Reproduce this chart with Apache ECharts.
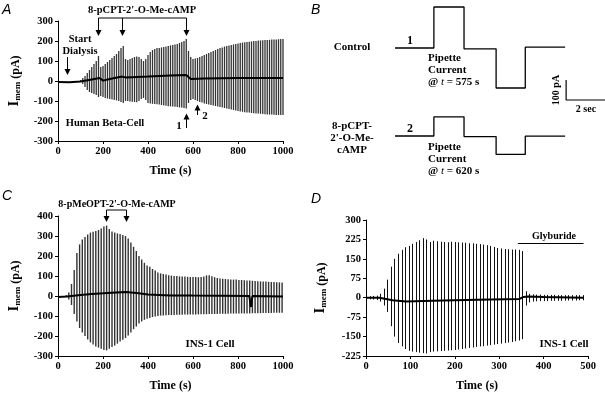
<!DOCTYPE html>
<html><head><meta charset="utf-8">
<script src="https://cdn.jsdelivr.net/npm/echarts@6/dist/echarts.min.js"></script>
<style>html,body{margin:0;padding:0;background:#fff}#c{width:605px;height:393px}</style>
</head><body><div id="c"></div>
<script>
// ---------- DATA ----------
// Panel A: spike times (s), upper and lower spike extremes (pA)
const aTime = [100,110,120,130,140,150,160,170,180,190,200,210,220,230,240,250,260,270,280,290,300,310,320,330,340,350,360,370,380,390,400,410,420,430,440,450,460,470,480,490,500,510,520,530,540,550,560,570,580,590,600,610,620,630,640,650,660,670,680,690,700,710,720,730,740,750,760,770,780,790,800,810,820,830,840,850,860,870,880,890,900,910,920,930,940,950,960,970,980,990,1000];
const aHigh = [5,15,25,40,55,70,85,100,125,70,75,85,95,105,115,125,135,150,165,175,110,105,110,115,120,122,120,110,100,110,130,145,155,160,165,165,168,170,172,175,178,180,182,185,190,195,200,210,150,120,110,112,115,120,125,130,135,140,145,150,155,160,165,168,172,175,178,180,183,185,188,190,192,194,195,196,198,200,200,202,203,204,205,205,206,207,208,208,209,210,210];
const aLow = [-5,-15,-30,-45,-55,-60,-65,-70,-80,-75,-80,-85,-88,-90,-92,-95,-97,-100,-105,-110,-100,-100,-102,-104,-105,-106,-100,-90,-85,-95,-110,-112,-114,-115,-116,-118,-120,-122,-124,-126,-127,-128,-129,-130,-132,-133,-135,-138,-110,-95,-90,-95,-100,-105,-108,-112,-115,-118,-120,-123,-125,-128,-130,-133,-135,-138,-140,-142,-145,-147,-150,-152,-154,-156,-157,-158,-160,-161,-162,-163,-164,-165,-166,-167,-168,-168,-169,-170,-170,-170,-170];
const aMeanT = [0,50,100,150,185,200,230,285,300,400,500,570,590,650,800,1000];
const aMeanV = [-5,-6,-3,8,15,2,10,22,18,22,28,30,10,12,15,15];

// Panel B: pipette current steps (s, pA)
const bTime = [0,2.0,2.0,3.55,3.55,5.2,5.2,6.7,6.7,8.75];
const b1Val = [0,0,205,205,-4,-4,-200,-200,4,4];
const b2Val = [0,0,96,96,-3,-3,-92,-92,-1,-1];
const barT = [8.8,8.8,10.8];
const barV = [-160,-260,-260];

// Panel C
const cTime = [36,48,60,72,84,96,108,120,132,144,156,168,180,192,204,216,228,240,252,264,276,288,300,312,324,336,348,360,372,384,396,408,420,432,444,456,468,480,492,504,516,528,540,552,564,576,588,600,612,624,636,648,660,672,684,696,708,720,732,744,756,768,780,792,804,816,828,840,852,864,876,888,900,912,924,936,948,960,972,984,996];
const cHigh = [5,18,60,130,215,258,283,295,307,317,321,325,330,337,348,352,335,323,318,313,310,305,300,287,268,246,225,200,182,166,153,146,135,127,118,113,110,107,104,102,100,100,98,98,97,96,95,95,95,94,95,98,103,104,99,94,90,88,86,85,84,83,82,82,80,80,79,78,77,76,75,74,73,73,72,71,70,70,69,68,67];
const cLow = [-5,-18,-45,-90,-128,-160,-183,-200,-218,-232,-242,-252,-258,-264,-270,-272,-264,-255,-247,-238,-228,-219,-210,-198,-182,-166,-152,-138,-127,-119,-114,-110,-105,-102,-100,-98,-97,-96,-95,-95,-95,-94,-94,-94,-93,-93,-93,-92,-92,-92,-91,-91,-91,-90,-90,-90,-90,-89,-89,-89,-89,-88,-88,-88,-88,-87,-87,-87,-87,-86,-86,-86,-86,-85,-85,-85,-85,-84,-84,-84,-84];
const cMeanT = [0,40,100,150,220,300,350,400,500,600,850,858,864,1000];
const cMeanV = [-5,-3,5,10,15,20,15,8,3,2,0,-55,0,-2];

// Panel D
const dTime = [8,16,24,32,40,48,56,64,72,80,88,96,104,112,120,128,136,144,152,160,168,176,184,192,200,208,216,224,232,240,248,256,264,272,280,288,296,304,312,320,328,336,344,352,360,368,376,384,392,400,408,416,424,432,440,448,456,464,472,480,488];
const dHigh = [6,7,8,15,35,70,120,150,170,185,195,200,208,215,222,230,225,215,220,218,216,215,214,216,215,214,213,212,210,210,208,207,205,203,200,196,192,190,188,187,186,186,185,180,25,15,13,12,12,11,11,11,11,10,10,10,10,10,10,10,10];
const dLow = [-6,-7,-9,-15,-30,-55,-110,-150,-175,-188,-198,-205,-208,-210,-212,-214,-215,-210,-208,-207,-206,-205,-204,-203,-202,-200,-198,-196,-194,-192,-190,-188,-187,-185,-183,-181,-179,-177,-175,-173,-171,-168,-165,-160,-30,-18,-15,-14,-13,-13,-13,-12,-12,-12,-12,-11,-11,-11,-11,-10,-10];
const dMeanT = [0,30,60,90,150,250,345,355,365,400,490];
const dMeanV = [0,0,-10,-15,-12,-8,-5,3,5,3,0];

// ---------- CHART ----------
const SERIF = '"Liberation Serif","Times New Roman",serif';
const SANS = '"Liberation Sans",Arial,sans-serif';
const chart = echarts.init(document.getElementById('c'), null, {renderer:'canvas'});

const yName = '{i|I}{s|mem}{p| (pA)}';
const yNameStyle = {color:'#000', fontFamily:SERIF, fontWeight:'bold',
  rich:{ i:{fontSize:15, fontFamily:SERIF, fontWeight:'bold', color:'#000', verticalAlign:'bottom', lineHeight:16},
         s:{fontSize:9, fontFamily:SERIF, fontWeight:'bold', color:'#000', verticalAlign:'bottom', lineHeight:11},
         p:{fontSize:12, fontFamily:SERIF, fontWeight:'bold', color:'#000', verticalAlign:'bottom', lineHeight:15}}};

const plain = v => String(v);
function xAx(gi, min, max, interval, show){
  if(!show) return {type:'value', gridIndex:gi, min, max, show:false};
  return {type:'value', gridIndex:gi, min, max, interval,
    axisLine:{show:true, onZero:false, lineStyle:{color:'#000', width:1}},
    axisTick:{show:true, length:3, lineStyle:{color:'#000'}},
    splitLine:{show:false},
    axisLabel:{color:'#000', fontFamily:SERIF, fontWeight:'bold', fontSize:10.5, margin:5, formatter:plain},
    name:'Time (s)', nameLocation:'middle', nameGap:24,
    nameTextStyle:{color:'#000', fontFamily:SERIF, fontWeight:'bold', fontSize:12}};
}
function yAx(gi, min, max, interval, show, gap){
  if(!show) return {type:'value', gridIndex:gi, min, max, show:false};
  return {type:'value', gridIndex:gi, min, max, interval,
    axisLine:{show:true, onZero:false, lineStyle:{color:'#000', width:1}},
    axisTick:{show:true, length:3, lineStyle:{color:'#000'}},
    splitLine:{show:false},
    axisLabel:{color:'#000', fontFamily:SERIF, fontWeight:'bold', fontSize:10.5, margin:5, formatter:plain},
    name:yName, nameLocation:'middle', nameGap:gap, nameTextStyle:yNameStyle};
}
function spikes(gi, t, hi, lo, color, w, snap){
  return {type:'custom', xAxisIndex:gi, yAxisIndex:gi, silent:true, animation:false,
    data:t.map((v,i)=>[v, hi[i], lo[i]]), encode:{x:0, y:[1,2]},
    renderItem:(params, api)=>{
      const p1 = api.coord([api.value(0), api.value(1)]);
      const p2 = api.coord([api.value(0), api.value(2)]);
      const x = snap ? Math.round(p1[0]) + 0.5 : p1[0];
      return {type:'line', shape:{x1:x, y1:p1[1], x2:x, y2:p2[1]},
        style:{stroke:color, lineWidth:w}};
    }};
}
function line(gi, t, v, w){
  return {type:'line', xAxisIndex:gi, yAxisIndex:gi, data:t.map((x,i)=>[x, v[i]]),
    showSymbol:false, symbol:'none', silent:true, animation:false, clip:false,
    lineStyle:{color:'#000', width:w}};
}

const option = {
  animation:false,
  backgroundColor:'#fff',
  grid:[
    {left:58, top:21, width:225, height:120},
    {left:58, top:216, width:225, height:143},
    {left:366, top:220, width:222, height:139},
    {left:395, top:0, width:210.6, height:100},
    {left:395, top:112, width:210.6, height:48}
  ],
  xAxis:[ xAx(0,0,1000,200,true), xAx(1,0,1000,200,true), xAx(2,0,500,100,true), xAx(3,0,10.8,1,false), xAx(4,0,10.8,1,false)],
  yAxis:[ yAx(0,-300,300,100,true,36), yAx(1,-300,400,100,true,36), yAx(2,-225,300,75,true,38), yAx(3,-260,240,100,false), yAx(4,-120,120,100,false)],
  series:[
    spikes(0, aTime, aHigh, aLow, '#333', 1.3, false),
    line(0, aMeanT, aMeanV, 2),
    spikes(1, cTime, cHigh, cLow, '#333', 1.4, false),
    line(1, cMeanT, cMeanV, 2),
    spikes(2, dTime, dHigh, dLow, '#111', 1, true),
    line(2, dMeanT, dMeanV, 2),
    line(3, bTime, b1Val, 1.3),
    line(3, barT, barV, 1.2),
    line(4, bTime, b2Val, 1.3)
  ]
};
chart.setOption(option);

// ---------- ANNOTATIONS ----------
const px = (gi, t, v) => chart.convertToPixel({gridIndex:gi}, [t, v]);
const g = [];
function txt(x, y, text, size, align, opts){
  opts = opts || {};
  g.push({type:'text', x, y, rotation:opts.rot||0, silent:true,
    style:{text, fill:'#000', font:(opts.font||('bold '+size+'px '+SERIF)),
      align:align||'center', verticalAlign:'middle', textAlign:align||'center', textVerticalAlign:'middle', rich:opts.rich}});
}
function seg(x1,y1,x2,y2,w){ g.push({type:'line', silent:true, shape:{x1,y1,x2,y2}, style:{stroke:'#000', lineWidth:w||1}}); }
function head(x, y, dir){ // dir 1 = pointing down, -1 = up
  g.push({type:'polygon', silent:true, shape:{points:[[x-3, y-6*dir],[x+3, y-6*dir],[x, y]]}, style:{fill:'#000'}});
}
function arrow(gi, t, vFrom, vTip){
  const a = px(gi, t, vFrom), b = px(gi, t, vTip);
  const dir = b[1] > a[1] ? 1 : -1;
  const x = Math.round(a[0]) + 0.5;
  seg(x, a[1], x, b[1] - 4*dir, 1);
  head(x, b[1], dir);
  return [x, a[1]];
}

// Panel letters
const letter = 'italic 14px ' + SANS;
txt(2, 10, 'A', 14, 'left', {font:letter});
txt(311, 10, 'B', 14, 'left', {font:letter});
txt(2, 196, 'C', 14, 'left', {font:letter});
txt(311, 199, 'D', 14, 'left', {font:letter});

// Panel A
txt(142, 10, "8-pCPT-2'-O-Me-cAMP", 10.5);
const br1 = arrow(0, 178, 315, 225), br2 = arrow(0, 285, 315, 225), br3 = arrow(0, 570, 315, 225);
seg(br1[0], br1[1], br3[0], br3[1], 1);
txt(80, 39, 'Start', 10.5);
txt(80, 51, 'Dialysis', 10.5);
arrow(0, 40, 120, 30);
txt(105, 123, 'Human Beta-Cell', 10.5);
arrow(0, 567, -235, -162);
arrow(0, 619, -170, -117);
txt(179, 126, '1', 11);
txt(205, 116, '2', 11);

// Panel B
txt(352, 47, 'Control', 11);
txt(410, 41, '1', 12);
txt(352, 126, '8-pCPT-', 11);
txt(352, 138, "2'-O-Me-", 11);
txt(352, 150, 'cAMP', 11);
txt(410, 129, '2', 12);
const rich = {it:{fontStyle:'italic', fontFamily:SERIF, fontSize:11, fill:'#000', color:'#000'}};
function pip(y0, val){
  txt(428, y0, 'Pipette', 11, 'left');
  txt(428, y0+12, 'Current', 11, 'left');
  txt(428, y0+24.5, '@ {it|t} = ' + val, 11, 'left', {rich});
}
pip(58, '575 s');
pip(147, '620 s');
txt(556, 90, '100 pA', 10, 'center', {rot:Math.PI/2});
txt(586, 109, '2 sec', 10);

// Panel C
txt(117, 204, "8-pMeOPT-2'-O-Me-cAMP", 10);
const c1 = arrow(1, 212, 430, 370), c2 = arrow(1, 301, 430, 370);
seg(c1[0], c1[1], c2[0], c2[1], 1);
txt(210, 344, 'INS-1 Cell', 11);

// Panel D
txt(554, 236, 'Glyburide', 10);
const gl1 = px(2, 342, 210), gl2 = px(2, 490, 210);
seg(gl1[0], Math.round(gl1[1])+0.5, gl2[0], Math.round(gl2[1])+0.5, 1.2);
txt(564, 344, 'INS-1 Cell', 11);

chart.setOption({graphic:g});
</script></body></html>
